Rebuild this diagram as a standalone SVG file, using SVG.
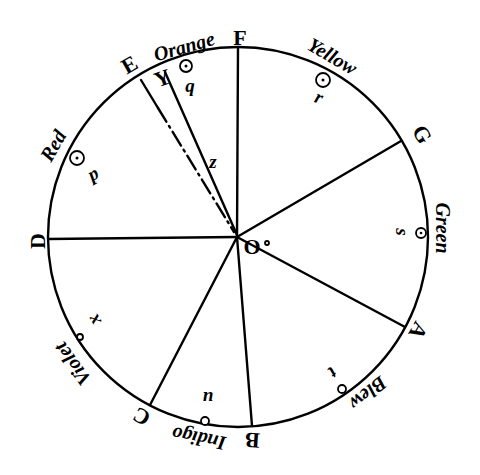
<svg xmlns="http://www.w3.org/2000/svg" width="480" height="475" viewBox="0 0 480 475">
<style>
.ln{stroke:#000;stroke-width:2.4;fill:none;stroke-linecap:round}
.ring{fill:#fff;stroke:#000;stroke-width:1.8}
.dot{fill:#000}
.cap{font-family:"Liberation Serif",serif;font-weight:bold;font-size:22px;fill:#000;text-anchor:middle}
.col{font-family:"Liberation Serif",serif;font-style:italic;font-weight:bold;font-size:20px;fill:#000;text-anchor:middle}
.sm{font-family:"Liberation Serif",serif;font-style:italic;font-weight:bold;font-size:19px;fill:#000;text-anchor:middle}
</style>
<rect width="480" height="475" fill="#fff"/>
<g id="connectors">
<circle class="ln" cx="238" cy="237" r="190"/>
<line class="ln" x1="237" y1="237" x2="238" y2="47"/>
<line class="ln" x1="237" y1="237" x2="401" y2="141"/>
<line class="ln" x1="237" y1="237" x2="405" y2="327"/>
<line class="ln" x1="237" y1="237" x2="252" y2="426"/>
<line class="ln" x1="237" y1="237" x2="150" y2="405"/>
<line class="ln" x1="237" y1="237" x2="48" y2="239"/>
<line class="ln" x1="141" y1="80" x2="158" y2="108"/>
<line class="ln" x1="158" y1="108" x2="234" y2="232" stroke-dasharray="16 5 2 5"/>
<line class="ln" x1="165" y1="72" x2="237" y2="235"/>
</g>
<g id="F"><text class="cap" x="240" y="45">F</text></g>
<g id="E"><text class="cap" transform="translate(133,71) rotate(-30)">E</text></g>
<g id="Y"><text class="cap" font-size="19" transform="translate(165,85) rotate(-20)">Y</text></g>
<g id="G"><text class="cap" transform="translate(416,138) rotate(59)">G</text></g>
<g id="A"><text class="cap" transform="translate(412,327) rotate(119)">A</text></g>
<g id="B"><text class="cap" transform="translate(253,433) rotate(184)">B</text></g>
<g id="C"><text class="cap" transform="translate(145,410) rotate(208)">C</text></g>
<g id="D"><text class="cap" transform="translate(45,241) rotate(-90)">D</text></g>
<g id="O"><text class="cap" font-size="21" x="252" y="254">O</text><circle class="ring" cx="267" cy="243" r="2"/></g>
<g id="orange"><text class="col" transform="translate(186,53) rotate(-16)">Orange</text></g>
<g id="yellow"><text class="col" transform="translate(329,62) rotate(30)">Yellow</text></g>
<g id="red"><text class="col" transform="translate(59,149) rotate(-60)">Red</text></g>
<g id="green"><text class="col" transform="translate(436,228) rotate(90)">Green</text></g>
<g id="blew"><text class="col" transform="translate(364,388) rotate(142)">Blew</text></g>
<g id="indigo"><text class="col" transform="translate(200,432) rotate(191)">Indigo</text></g>
<g id="violet"><text class="col" transform="translate(78,360) rotate(-126)">Violet</text></g>
<g id="q"><circle class="ring" cx="186" cy="66" r="6"/><circle class="dot" cx="186" cy="66" r="1.5"/><text class="sm" x="190" y="92">q</text></g>
<g id="r"><circle class="ring" cx="323" cy="80" r="7"/><circle class="dot" cx="323" cy="80" r="1.5"/><text class="sm" transform="translate(317,103) rotate(20)">r</text></g>
<g id="p"><circle class="ring" cx="77" cy="158" r="7"/><circle class="dot" cx="77" cy="158" r="1.5"/><text class="sm" transform="translate(96,179) rotate(-30)">p</text></g>
<g id="s"><circle class="ring" cx="421" cy="233" r="5"/><circle class="dot" cx="421" cy="233" r="1.3"/><text class="sm" font-size="16" transform="translate(396,232) rotate(90)">s</text></g>
<g id="t"><circle class="ring" cx="342" cy="389" r="4"/><text class="sm" font-size="16" transform="translate(329,368) rotate(140)">t</text></g>
<g id="u"><circle class="ring" cx="205" cy="421" r="4"/><text class="sm" font-size="17" transform="translate(208,392) rotate(180)">u</text></g>
<g id="x"><circle class="ring" cx="80" cy="337" r="3"/><text class="sm" font-size="17" transform="translate(99,317) rotate(-120)">x</text></g>
<g id="z"><text class="sm" font-size="18" x="213" y="168">z</text></g>
</svg>
